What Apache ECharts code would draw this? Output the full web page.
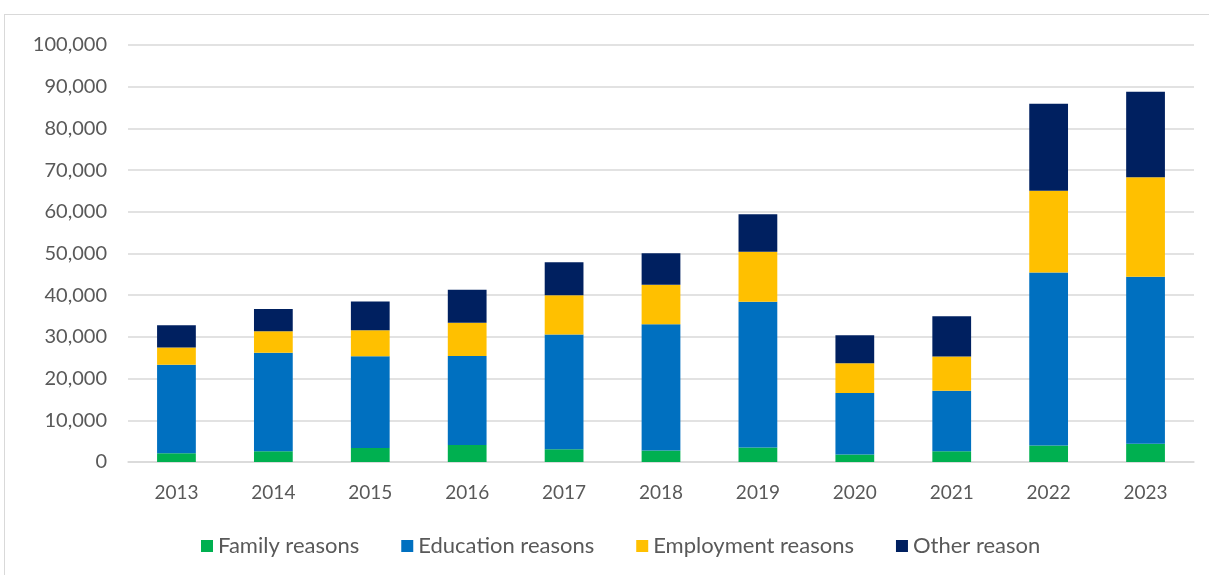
<!DOCTYPE html>
<html>
<head>
<meta charset="utf-8">
<script src="https://cdn.jsdelivr.net/npm/echarts@6/dist/echarts.min.js"></script>
<style>
  html, body { margin: 0; padding: 0; background: #fff; overflow: hidden; }
  #frame { position: absolute; left: 4px; top: 14px; width: 1400px; height: 800px; border: 1px solid #d9d9d9; }
  #main { position: absolute; left: 0; top: 0; width: 1209px; height: 575px; }
</style>
</head>
<body>
<div id="frame"></div>
<div id="main"></div>
<script>
var years = ["2013", "2014", "2015", "2016", "2017", "2018", "2019", "2020", "2021", "2022", "2023"];
var family = [2100, 2570, 3370, 4100, 3050, 2730, 3500, 1770, 2570, 3930, 4400];
var education = [21200, 23600, 22000, 21300, 27550, 30300, 34900, 14800, 14500, 41500, 40000];
var employment = [4150, 5200, 6200, 8000, 9400, 9500, 12000, 7100, 8200, 19600, 23900];
var other = [5350, 5300, 6900, 7900, 7900, 7500, 9000, 6700, 9700, 20900, 20500];

var seriesNames = ["Family reasons", "Education reasons", "Employment reasons", "Other reason"];
var seriesColors = ["#00b050", "#0070c0", "#ffc000", "#002060"];
var seriesData = [family, education, employment, other];

var font = "Lato, 'Liberation Sans', sans-serif";
var myChart = echarts.init(document.getElementById("main"));

myChart.setOption({
  animation: false,
  grid: {
    left: 128,
    right: 15,
    top: 45,
    bottom: 113,
    containLabel: false,
  },
  legend: {
    bottom: 13,
    left: 196,
    icon: "rect",
    itemWidth: 12,
    itemHeight: 12,
    itemGap: 42,
    textStyle: {
      fontFamily: font,
      fontSize: 22,
      color: "#595959",
    },
    data: seriesNames,
  },
  xAxis: {
    type: "category",
    data: years,
    axisLine: { lineStyle: { color: "#d9d9d9", width: 1.5 } },
    axisTick: { show: false },
    axisLabel: {
      margin: 21,
      fontFamily: font,
      fontSize: 19,
      color: "#595959",
    },
  },
  yAxis: {
    type: "value",
    min: 0,
    max: 100000,
    interval: 10000,
    axisLine: { show: false },
    axisTick: { show: false },
    axisLabel: {
      margin: 21,
      fontFamily: font,
      fontSize: 20,
      color: "#595959",
      formatter: function (v) {
        return v.toLocaleString("en-US");
      },
    },
    splitLine: { lineStyle: { color: "#d9d9d9", width: 1.5 } },
  },
  series: seriesNames.map(function (name, i) {
    return {
      name: name,
      type: "bar",
      stack: "total",
      barWidth: "40%",
      data: seriesData[i],
      itemStyle: { color: seriesColors[i] },
    };
  }),
});
</script>
</body>
</html>
